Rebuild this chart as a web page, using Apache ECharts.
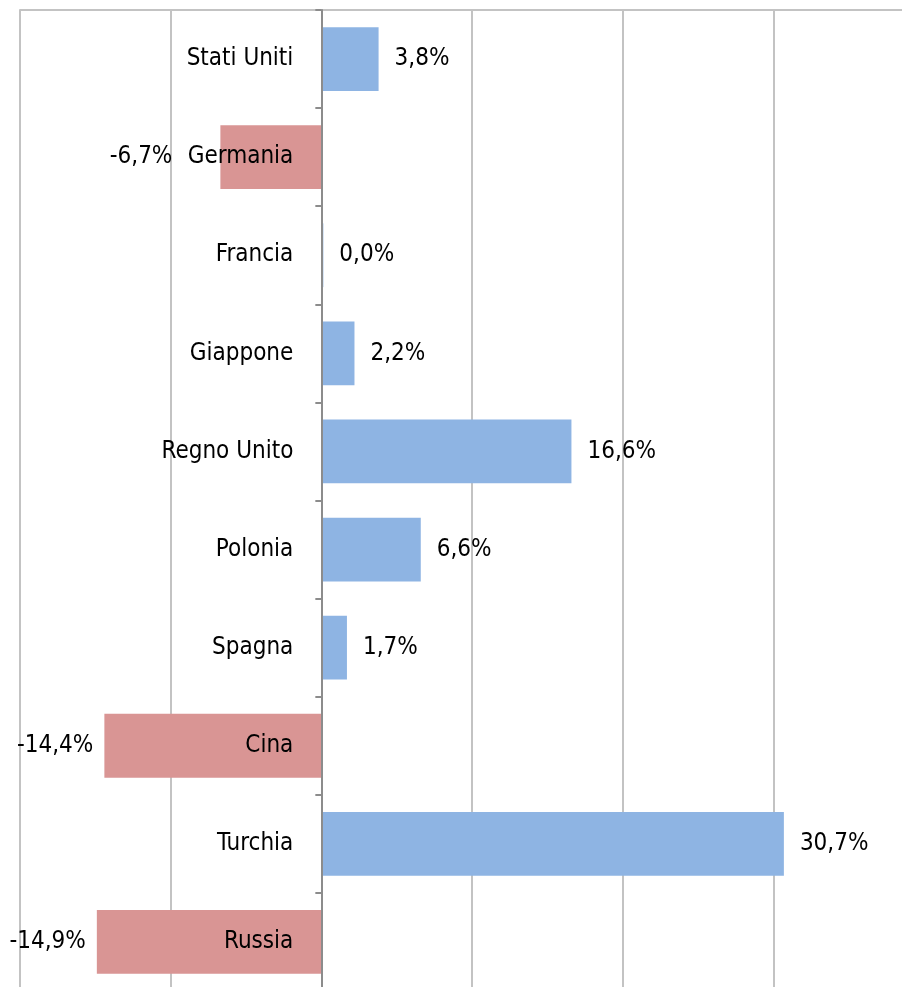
<!DOCTYPE html>
<html>
<head>
<meta charset="utf-8">
<script src="https://cdn.jsdelivr.net/npm/echarts@6/dist/echarts.min.js"></script>
<style>
html,body{margin:0;padding:0;background:#fff;}
#chart{width:902px;height:987px;}
</style>
</head>
<body>
<div id="chart"></div>
<script>
const categories = ['Stati Uniti','Germania','Francia','Giappone','Regno Unito','Polonia','Spagna','Cina','Turchia','Russia'];
const values = [3.8, -6.7, 0.0, 2.2, 16.6, 6.6, 1.7, -14.4, 30.7, -14.9];
const xTicks = [-20, -10, 0, 10, 20, 30, 40];

const FONT = "'DejaVu Sans Condensed', 'Liberation Sans Narrow', 'Open Sans', sans-serif";
const BLUE = '#8EB4E3';
const RED = '#D99594';

const GRID_LEFT = 20, GRID_TOP = 10, GRID_W = 904, GRID_H = 981;
const xMin = xTicks[0], xMax = xTicks[xTicks.length - 1];
const zeroOffset = GRID_W * (0 - xMin) / (xMax - xMin);

const fmt = v => v.toFixed(1).replace('.', ',') + '%';

const data = values.map((v, i) => {
  const neg = v < 0;
  return {
    value: v,
    itemStyle: { color: neg ? RED : BLUE },
    label: {
      position: neg ? 'left' : 'right',
      distance: (categories[i] === 'Germania') ? 48 : (neg ? 11 : 16)
    }
  };
});

const chart = echarts.init(document.getElementById('chart'), null, {renderer: 'canvas'});
chart.setOption({
  animation: false,
  grid: { left: GRID_LEFT, top: GRID_TOP, width: GRID_W, height: GRID_H, containLabel: false, outerBoundsMode: 'none' },
  xAxis: {
    type: 'value',
    position: 'top',
    min: xMin,
    max: xMax,
    interval: 10,
    axisLabel: { show: false },
    axisTick: { show: false },
    axisLine: { show: true, lineStyle: { color: '#c3c3c3', width: 2 } },
    splitLine: { show: true, lineStyle: { color: '#c3c3c3', width: 2 } }
  },
  yAxis: {
    type: 'category',
    data: categories,
    inverse: true,
    position: 'left',
    offset: -zeroOffset,
    z: 10,
    axisLine: { show: true, onZero: false, lineStyle: { color: '#8c8c8c', width: 2 } },
    axisTick: { show: true, length: 6, lineStyle: { color: '#8c8c8c', width: 2 } },
    axisLabel: {
      margin: 28,
      fontFamily: FONT,
      fontSize: 24,
      color: '#000',
      padding: [5, 0, 0, 0]
    }
  },
  series: [{
    type: 'bar',
    data: data,
    barCategoryGap: '35%',
    barMinHeight: 2,
    label: {
      show: true,
      fontFamily: FONT,
      fontSize: 24,
      color: '#000',
      padding: [5, 0, 0, 0],
      formatter: p => fmt(p.value)
    }
  }]
});
</script>
</body>
</html>
